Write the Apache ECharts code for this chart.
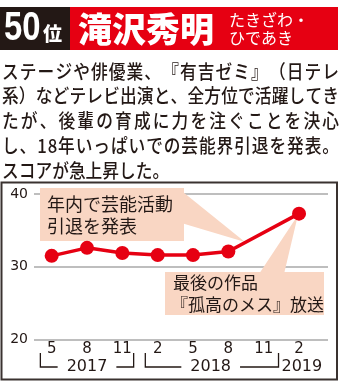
<!DOCTYPE html>
<html><head><meta charset="utf-8">
<script src="https://cdn.jsdelivr.net/npm/echarts@6/dist/echarts.min.js"></script>
<style>html,body{margin:0;padding:0;background:#fff}#c{width:340px;height:382px}</style>
</head><body><div id="c"></div>
<script>
// ---- data ----
const monthLabels = ['5', '8', '11', '2', '5', '8', '11', '2'];
const periodIndex = [0, 1, 2, 3, 4, 5, 6, 7];
const scores = [31.5, 32.6, 31.9, 31.6, 31.6, 32.1, null, 37.3];
const yearLabels = ['2017', '2018', '2019'];
const yTicks = [20, 30, 40];
const rankText = '50';
const rankSuffix = '位';
const nameText = '滝沢秀明';
const readingLines = ['たきざわ・', 'ひであき'];
const bodyLines = [
  'ステージや俳優業、『有吉ゼミ』（日テレ',
  '系）などテレビ出演と、全方位で活躍してき',
  'たが、後輩の育成に力を注ぐことを決心',
  'し、18年いっぱいでの芸能界引退を発表。',
  'スコアが急上昇した。'
];
const note1Lines = ['年内で芸能活動', '引退を発表'];
const note2Lines = ['最後の作品', '『孤高のメス』放送'];

// ---- style ----
const RED = '#e60012', INK = '#231815', PEACH = '#f9d6c3', GRID = '#a8a8a8';
const JP = '"Noto Sans CJK JP", sans-serif';
const NUM = '"DejaVu Sans", sans-serif';

const chart = echarts.init(document.getElementById('c'), null, {renderer: 'canvas'});

const seriesData = periodIndex.map((x, i) => [x, scores[i]]).filter(d => d[1] != null);

// paragraph layout (per character, justified)
const mctx = document.createElement('canvas').getContext('2d');
const PF = 19, PSX = 0.88, PL = 2, PR = 339;
const BODY_FONT = '500 ' + PF + 'px ' + JP;
function bodyElements() {
  const els = [];
  mctx.font = BODY_FONT;
  bodyLines.forEach((str, li) => {
    const chars = Array.from(str);
    const ws = chars.map(c => mctx.measureText(c).width * PSX);
    const total = ws.reduce((a, b) => a + b, 0);
    const justify = li < bodyLines.length - 1;
    const gap = justify ? (PR - PL - total) / (chars.length - 1) : 0;
    let x = PL;
    const y = 71.5 + li * 24.7;
    chars.forEach((c, i) => {
      els.push({type: 'text', x: x, y: y, scaleX: PSX, z: 5, silent: true,
        style: {x: 0, y: 0, text: c, fill: INK, font: BODY_FONT, textVerticalAlign: 'middle', textAlign: 'left'}});
      x += ws[i] + gap;
    });
  });
  return els;
}

const staticGraphics = [
  {type: 'rect', shape: {x: 0, y: 7, width: 70, height: 43}, style: {fill: INK}, z: 5},
  {type: 'rect', shape: {x: 70, y: 7, width: 268, height: 43}, style: {fill: RED}, z: 5},
  {type: 'text', x: 4, y: 29, scaleX: 0.82, z: 6, style: {x: 0, y: 0, text: rankText, fill: '#fff', font: 'bold 40px "Liberation Sans", sans-serif', textVerticalAlign: 'middle'}},
  {type: 'text', x: 43, y: 34, z: 6, style: {text: rankSuffix, fill: '#fff', font: '900 19px ' + JP, textVerticalAlign: 'middle'}},
  {type: 'text', x: 78, y: 29, z: 6, style: {text: nameText, fill: '#fff', font: '900 34px ' + JP, textVerticalAlign: 'middle'}},
  {type: 'text', x: 229, y: 20, z: 6, style: {text: readingLines[0], fill: '#fff', font: '16px ' + JP, textVerticalAlign: 'middle'}},
  {type: 'text', x: 229, y: 38, z: 6, style: {text: readingLines[1], fill: '#fff', font: '16px ' + JP, textVerticalAlign: 'middle'}},
  {type: 'rect', shape: {x: 1.5, y: 182.5, width: 335.5, height: 197}, style: {fill: 'none', stroke: '#3a3230', lineWidth: 2}, z: 5},
  // note 1
  {type: 'polygon', shape: {points: [[178, 188], [245, 242], [178, 222]]}, style: {fill: PEACH}, z: 1},
  {type: 'rect', shape: {x: 40, y: 188, width: 144, height: 53}, style: {fill: PEACH}, z: 1},
  {type: 'text', x: 47, y: 204, z: 1, style: {text: note1Lines[0], fill: INK, font: '18px ' + JP, textVerticalAlign: 'middle'}},
  {type: 'text', x: 47, y: 226, z: 1, style: {text: note1Lines[1], fill: INK, font: '18px ' + JP, textVerticalAlign: 'middle'}},
  // note 2
  {type: 'polygon', shape: {points: [[259, 274], [298, 215], [284, 274]]}, style: {fill: PEACH}, z: 1},
  {type: 'rect', shape: {x: 165, y: 272, width: 159, height: 43}, style: {fill: PEACH}, z: 1},
  {type: 'text', x: 173, y: 283, z: 1, style: {text: note2Lines[0], fill: INK, font: '17px ' + JP, textVerticalAlign: 'middle'}},
  {type: 'text', x: 171, y: 305, z: 1, style: {text: note2Lines[1], fill: INK, font: '17px ' + JP, textVerticalAlign: 'middle'}}
].concat(bodyElements());

chart.setOption({
  animation: false,
  grid: {left: 34, right: 12, top: 194, bottom: 42.5, containLabel: false},
  xAxis: {
    type: 'value', min: -0.5, max: 7.82,
    splitLine: {show: false}, axisLine: {show: false}, axisTick: {show: false},
    axisLabel: {
      customValues: periodIndex,
      formatter: v => monthLabels[Math.round(v)] || '',
      color: INK, fontFamily: NUM, fontSize: 15, margin: 2
    }
  },
  yAxis: {
    type: 'value', min: yTicks[0], max: yTicks[yTicks.length - 1], interval: 10,
    axisLine: {show: false}, axisTick: {show: false},
    splitLine: {show: true, lineStyle: {color: GRID, width: 1.5}},
    axisLabel: {color: INK, fontFamily: NUM, fontSize: 14, margin: 6}
  },
  series: [{
    type: 'line', data: seriesData, z: 3,
    lineStyle: {color: RED, width: 3.5},
    itemStyle: {color: RED},
    symbol: 'circle', symbolSize: 14, showSymbol: true
  }],
  graphic: staticGraphics
});

// year brackets placed through the axis scale
const yearSpans = [[-0.32, 2.32], [2.65, 6.42], null];
const yearCenters = [1, 4.5, 7.08];
const px = v => chart.convertToPixel({xAxisIndex: 0}, v);
const extra = [];
yearLabels.forEach((yl, i) => {
  const sp = yearSpans[i];
  if (sp) {
    const xl = px(sp[0]), xr = px(sp[1]);
    extra.push({type: 'polyline', z: 5, shape: {points: [[xl, 353], [xl, 367], [xr, 367], [xr, 353]]},
      style: {stroke: INK, lineWidth: 1.3, fill: null}});
  }
  const st = {text: yl, fill: INK, font: '16px ' + NUM, textAlign: 'center', textVerticalAlign: 'middle'};
  if (sp) { st.backgroundColor = '#fff'; st.padding = [1, 9]; }
  extra.push({type: 'text', x: px(yearCenters[i]), y: 367, z: 6, style: st});
});
chart.setOption({graphic: staticGraphics.concat(extra)});
</script>
</body></html>
